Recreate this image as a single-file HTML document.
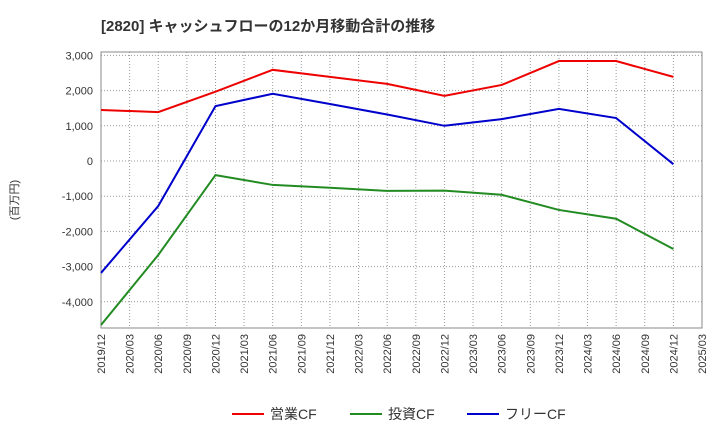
<!DOCTYPE html>
<html><head><meta charset="utf-8">
<style>
body{margin:0;background:#fff;font-family:"Liberation Sans","Noto Sans CJK JP",sans-serif;}
svg text{font-family:"Liberation Sans","Noto Sans CJK JP",sans-serif;}
</style></head>
<body>
<svg id="chart" width="720" height="440" xmlns="http://www.w3.org/2000/svg">
<text x="101" y="31" font-size="15" font-weight="bold" fill="#333">[2820]  キャッシュフローの12か月移動合計の推移</text>
<text transform="translate(18,200) rotate(-90)" font-size="11" fill="#333" text-anchor="middle">(百万円)</text>
<g id="grid"></g><g id="axes"></g><g id="series"></g>
<g>
<line x1="232" y1="414" x2="264" y2="414" stroke="#e00" stroke-width="2"/>
<text x="270" y="419" font-size="14" fill="#333">営業CF</text>
<line x1="350" y1="414" x2="382" y2="414" stroke="#228b22" stroke-width="2"/>
<text x="388" y="419" font-size="14" fill="#333">投資CF</text>
<line x1="467" y1="414" x2="499" y2="414" stroke="#00c" stroke-width="2"/>
<text x="505" y="419" font-size="14" fill="#333">フリーCF</text>
</g>
</svg>
<script>
const xLabels=["2019/12","2020/03","2020/06","2020/09","2020/12","2021/03","2021/06","2021/09","2021/12","2022/03","2022/06","2022/09","2022/12","2023/03","2023/06","2023/09","2023/12","2024/03","2024/06","2024/09","2024/12","2025/03"];
const yTicks=[3000,2000,1000,0,-1000,-2000,-3000,-4000];
const pointQuarters=[0,2,4,6,8,10,12,14,16,18,20];
const operatingCF=[1450,1390,1970,2590,2390,2190,1850,2160,2840,2840,2390];
const investingCF=[-4660,-2670,-400,-680,-760,-850,-840,-960,-1390,-1640,-2500];
const freeCF=[-3180,-1280,1560,1910,1620,1320,1000,1190,1480,1220,-90];
const L=101,R=702,T=52,B=328;
const xs=i=>L+(R-L)*i/(xLabels.length-1);
const ys=v=>161-v*0.0352;
const NS="http://www.w3.org/2000/svg";
function mk(p,tag,attrs){const e=document.createElementNS(NS,tag);for(const k in attrs)e.setAttribute(k,attrs[k]);p.appendChild(e);return e;}
const grid=document.getElementById('grid'),axes=document.getElementById('axes'),ser=document.getElementById('series');
xLabels.forEach((lab,i)=>{
 const x=xs(i);
 if(i>0&&i<xLabels.length-1){const g=mk(grid,'line',{x1:x,y1:T,x2:x,y2:B,stroke:'#999','stroke-dasharray':'1,2'});
 
 }
 const t=mk(axes,'text',{transform:`translate(${x+4},${B+6}) rotate(-90)`,'text-anchor':'end','font-size':'11',fill:'#333'});
 t.textContent=lab;
 
 
});
yTicks.forEach(v=>{
 const y=ys(v);
 const g=mk(grid,'line',{x1:L,y1:y,x2:R,y2:y,stroke:'#999','stroke-dasharray':'1,2'});
 
 
 const t=mk(axes,'text',{x:L-8,y:y+4,'text-anchor':'end','font-size':'11',fill:'#333'});
 t.textContent=v.toLocaleString('en-US');
 
 
});
const fr=mk(axes,'rect',{x:L,y:T,width:R-L,height:B-T,fill:'none',stroke:'#888'});


[[operatingCF,'#e00','operating-cf-line'],[investingCF,'#228b22','investing-cf-line'],[freeCF,'#00c','free-cf-line']].forEach(([d,c,n])=>{
 const pts=d.map((v,i)=>xs(pointQuarters[i])+','+ys(v)).join(' ');
 const p=mk(ser,'polyline',{points:pts,fill:'none',stroke:c,'stroke-width':2});
 
 
});
</script>
</body></html>
